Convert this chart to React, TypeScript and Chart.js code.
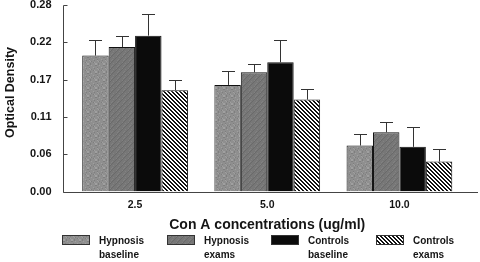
import React, { useEffect, useRef } from "react";
import { Chart, registerables } from "chart.js";

Chart.register(...registerables);

const categories = ["2.5", "5.0", "10.0"];
const seriesLabels = [
  ["Hypnosis", "baseline"],
  ["Hypnosis", "exams"],
  ["Controls", "baseline"],
  ["Controls", "exams"],
];
const hypnosisBaseline = [0.204, 0.16, 0.069];
const hypnosisBaselineErr = [0.024, 0.021, 0.018];
const hypnosisExams = [0.217, 0.179, 0.089];
const hypnosisExamsErr = [0.017, 0.013, 0.015];
const controlsBaseline = [0.234, 0.194, 0.067];
const controlsBaselineErr = [0.032, 0.033, 0.03];
const controlsExams = [0.152, 0.138, 0.045];
const controlsExamsErr = [0.015, 0.016, 0.019];
const yTickLabels = ["0.00", "0.06", "0.11", "0.17", "0.22", "0.28"];
const yMin = 0;
const yMax = 0.28;
const xTitle = "Con A concentrations (ug/ml)";
const yTitle = "Optical Density";

const FONT = "'Liberation Sans', Arial, Helvetica, sans-serif";
const INK = "#151515";

function tile(size: number, draw: (g: CanvasRenderingContext2D) => void) {
  const c = document.createElement("canvas");
  c.width = size;
  c.height = size;
  const g = c.getContext("2d")!;
  draw(g);
  return c;
}

function makePatterns(ctx: CanvasRenderingContext2D) {
  const speckle = tile(8, (g) => {
    g.fillStyle = "#8f8f8f";
    g.fillRect(0, 0, 8, 8);
    for (let x = 0; x < 8; x++) {
      for (let y = 0; y < 8; y++) {
        const h = (x * 5 + y * 3 + x * y) % 7;
        if (h === 0) { g.fillStyle = "#a0a0a0"; g.fillRect(x, y, 1, 1); }
        else if (h === 3) { g.fillStyle = "#7e7e7e"; g.fillRect(x, y, 1, 1); }
      }
    }
  });
  const darkHatch = tile(6, (g) => {
    g.fillStyle = "#777777";
    g.fillRect(0, 0, 6, 6);
    for (let x = 0; x < 6; x++) {
      for (let y = 0; y < 6; y++) {
        if ((x + y) % 6 === 5) { g.fillStyle = "#6a6a6a"; g.fillRect(x, y, 1, 1); }
        else if ((x * 3 + y * 5) % 7 === 2) { g.fillStyle = "#828282"; g.fillRect(x, y, 1, 1); }
      }
    }
  });
  const stripes = tile(4, (g) => {
    g.fillStyle = "#ffffff";
    g.fillRect(0, 0, 4, 4);
    g.fillStyle = "#111111";
    for (let x = 0; x < 4; x++) {
      for (let y = 0; y < 4; y++) {
        if ((x - y + 8) % 4 < 2) g.fillRect(x, y, 1, 1);
      }
    }
  });
  return [
    ctx.createPattern(speckle, "repeat")!,
    ctx.createPattern(darkHatch, "repeat")!,
    "#0b0b0b",
    ctx.createPattern(stripes, "repeat")!,
  ];
}

export default function App() {
  const ref = useRef<HTMLCanvasElement>(null);

  useEffect(() => {
    document.body.style.margin = "0";
    const canvas = ref.current!;
    const ctx = canvas.getContext("2d")!;
    const fills = makePatterns(ctx);
    const values = [hypnosisBaseline, hypnosisExams, controlsBaseline, controlsExams];
    const errors = [hypnosisBaselineErr, hypnosisExamsErr, controlsBaselineErr, controlsExamsErr];

    const decor = {
      id: "decor",
      afterDatasetsDraw(chart: any) {
        const c = chart.ctx as CanvasRenderingContext2D;
        const ys = chart.scales.y;
        const area = chart.chartArea;
        c.save();
        // error bars (upper only)
        c.strokeStyle = "#333";
        c.lineWidth = 1;
        chart.data.datasets.forEach((ds: any, di: number) => {
          const meta = chart.getDatasetMeta(di);
          meta.data.forEach((bar: any, i: number) => {
            const top = ys.getPixelForValue(values[di][i] + errors[di][i]);
            const x = Math.round(bar.x) + 0.5;
            c.beginPath();
            c.moveTo(x, bar.y);
            c.lineTo(x, Math.round(top) + 0.5);
            c.moveTo(x - 6.5, Math.round(top) + 0.5);
            c.lineTo(x + 6.5, Math.round(top) + 0.5);
            c.stroke();
          });
        });
        // axes
        const axX = Math.round(area.left - 6.5) + 0.5;
        const axY = Math.round(area.bottom) + 0.5;
        c.strokeStyle = "#444";
        c.beginPath();
        c.moveTo(axX, Math.round(ys.getPixelForValue(yMax)) + 0.5);
        c.lineTo(axX, axY);
        c.lineTo(chart.width - 2, axY);
        ys.ticks.forEach((t: any) => {
          const py = Math.round(ys.getPixelForValue(t.value)) + 0.5;
          c.moveTo(axX, py);
          c.lineTo(axX + 4, py);
        });
        c.stroke();
        // y axis title
        c.save();
        c.translate(11, 92.5);
        c.rotate(-Math.PI / 2);
        c.font = `bold 12.5px ${FONT}`;
        c.textAlign = "center";
        c.textBaseline = "middle";
        c.fillStyle = INK;
        c.fillText(yTitle, 0, 0);
        c.restore();
        // legend
        const startX = 62;
        const stride = 104.7;
        const boxTop = 235;
        c.font = `bold 10px ${FONT}`;
        c.textBaseline = "middle";
        c.textAlign = "left";
        chart.data.datasets.forEach((ds: any, di: number) => {
          const bx = Math.round(startX + di * stride);
          c.fillStyle = ds.backgroundColor;
          c.fillRect(bx, boxTop, 28, 10);
          c.strokeStyle = "#333";
          c.strokeRect(bx + 0.5, boxTop + 0.5, 27, 9);
          c.fillStyle = INK;
          seriesLabels[di].forEach((line, li) => {
            c.fillText(line, bx + 37, 241.7 + li * 14);
          });
        });
        c.restore();
      },
    };

    const chart = new Chart(canvas, {
      type: "bar",
      data: {
        labels: categories,
        datasets: values.map((v, i) => ({
          label: seriesLabels[i].join(" "),
          data: v,
          backgroundColor: fills[i] as any,
          borderColor: "#111",
          borderWidth: 1,
          categoryPercentage: 0.8,
          barPercentage: 1.0,
        })),
      },
      options: {
        responsive: false,
        animation: false,
        devicePixelRatio: 1,
        layout: { padding: { top: 5, right: 14.5, bottom: 28, left: 0 } },
        plugins: { legend: { display: false }, tooltip: { enabled: false } },
        scales: {
          x: {
            grid: { display: false, drawTicks: true, tickLength: 7 },
            border: { display: false },
            ticks: { color: INK, font: { family: FONT, size: 10.5, weight: "bold" }, padding: 0 },
            title: {
              display: true,
              text: xTitle,
              color: INK,
              font: { family: FONT, size: 14, weight: "bold" },
              padding: { top: 0, bottom: 0.5 },
            },
            afterFit: (s: any) => { s.height = 42.5; },
          },
          y: {
            min: yMin,
            max: yMax,
            grid: { display: false, drawTicks: true, tickLength: 17.5 },
            border: { display: false },
            ticks: {
              stepSize: 0.056,
              color: INK,
              font: { family: FONT, size: 11, weight: "bold", lineHeight: 0.9 },
              padding: 0,
              callback: (_v: any, idx: number) => yTickLabels[idx],
            },
            title: { display: false, text: yTitle },
            afterFit: (s: any) => { s.width = 69; },
          },
        },
      },
      plugins: [decor],
    });
    return () => chart.destroy();
  }, []);

  return (
    <div style={{ width: 480, height: 262 }}>
      <canvas ref={ref} width={480} height={262} style={{ display: "block" }} />
    </div>
  );
}
